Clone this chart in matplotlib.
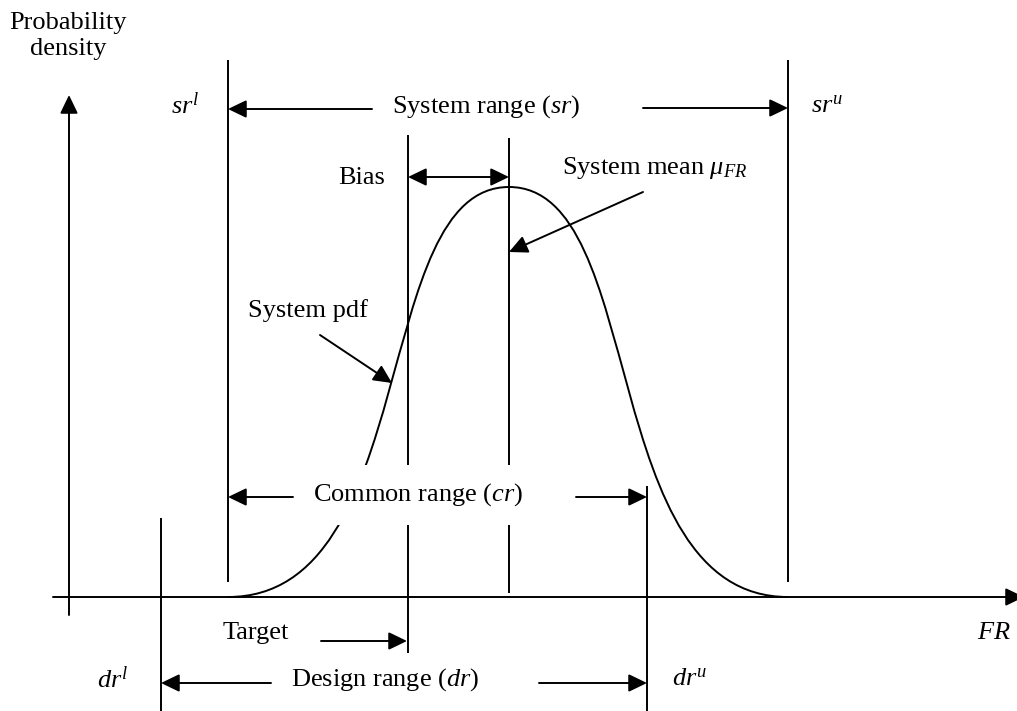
import matplotlib
matplotlib.use("Agg")
from matplotlib import pyplot as plt
from matplotlib.path import Path
from matplotlib.patches import PathPatch

plt.rcParams['font.family'] = 'Liberation Serif'
plt.rcParams['mathtext.fontset'] = 'custom'
plt.rcParams['mathtext.rm'] = 'Liberation Serif'
plt.rcParams['mathtext.it'] = 'Liberation Serif:italic'

# diagram coordinates (pixel-like units, y grows downwards)
baseline_y = 597
y_axis_x = 69

# vertical marker lines: name -> (x, top, bottom)
marker_names = ['sr_l', 'sr_u', 'target', 'mean', 'dr_l', 'dr_u']
marker_x = [228, 788, 408, 509, 161, 647]
marker_top = [60, 60, 135, 138, 518, 486]
marker_bottom = [582, 582, 653, 593, 711, 711]

# system pdf, drawn as two cubic bezier halves
pdf_pts = [(228, 597), (421, 597), (370, 187), (509, 187),
           (648, 187), (597, 597), (788, 597)]

# arrows: (tail, tip, style)
arrows = [
    ((372, 109), (228, 109), '-|>'),   # system range left
    ((643, 108), (788, 108), '-|>'),   # system range right
    ((408, 177), (509, 177), '<|-|>'), # bias
    ((643, 192), (509, 252), '-|>'),   # system mean pointer
    ((320, 335), (392, 383), '-|>'),   # system pdf pointer
    ((293, 497), (228, 497), '-|>'),   # common range left
    ((576, 497), (647, 497), '-|>'),   # common range right
    ((321, 641), (407, 641), '-|>'),   # target
    ((271, 683), (161, 683), '-|>'),   # design range left
    ((539, 683), (647, 683), '-|>'),   # design range right
]

labels = ['Probability\ndensity', r'$sr^{l}$', r'System range ($sr$)', r'$sr^{u}$',
          'Bias', r'System mean $\mu_{FR}$', 'System pdf', r'Common range ($cr$)',
          'Target', r'$FR$', r'$dr^{l}$', r'Design range ($dr$)', r'$dr^{u}$']
label_xy = [(68, 36), (185, 106), (486, 107), (827, 106),
            (362, 178), (655, 168), (308, 311), (418, 495),
            (256, 633), (994, 633), (113, 680), (385, 680), (690, 680)]

fig = plt.figure(figsize=(10.17, 7.11), dpi=100)
ax = fig.add_axes([0, 0, 1, 1])
ax.set_xlim(0, 1017)
ax.set_ylim(711, 0)
ax.axis('off')

head = 'head_length=0.56,head_width=0.27'
lw = 1.4

# axes of the diagram
ax.annotate('', xy=(y_axis_x, 95), xytext=(y_axis_x, 615), annotation_clip=False,
            arrowprops=dict(arrowstyle='-|>,' + head, lw=lw, color='black',
                            mutation_scale=20, shrinkA=0, shrinkB=0))
ax.annotate('', xy=(1024, baseline_y), xytext=(53, baseline_y), annotation_clip=False,
            arrowprops=dict(arrowstyle='-|>,' + head, lw=lw, color='black',
                            mutation_scale=20, shrinkA=0, shrinkB=0))

for x, top, bot in zip(marker_x, marker_top, marker_bottom):
    ax.plot([x, x], [top, bot], color='black', lw=lw, solid_capstyle='butt')

codes = [Path.MOVETO] + [Path.CURVE4] * 6
ax.add_patch(PathPatch(Path(pdf_pts, codes), facecolor='none', edgecolor='black', lw=lw))

for tail, tip, style in arrows:
    ax.annotate('', xy=tip, xytext=tail, annotation_clip=False,
                arrowprops=dict(arrowstyle=style + ',' + head, lw=lw, color='black',
                                mutation_scale=20, shrinkA=0, shrinkB=0))

for txt, (x, y) in zip(labels, label_xy):
    kw = {}
    if txt.startswith('Common'):
        kw['bbox'] = dict(boxstyle='square,pad=0.62', facecolor='white', edgecolor='none')
    ax.text(x, y, txt, ha='center', va='center', fontsize=19, zorder=5,
            linespacing=1.2, **kw)

fig.savefig('out.png', dpi=100)
